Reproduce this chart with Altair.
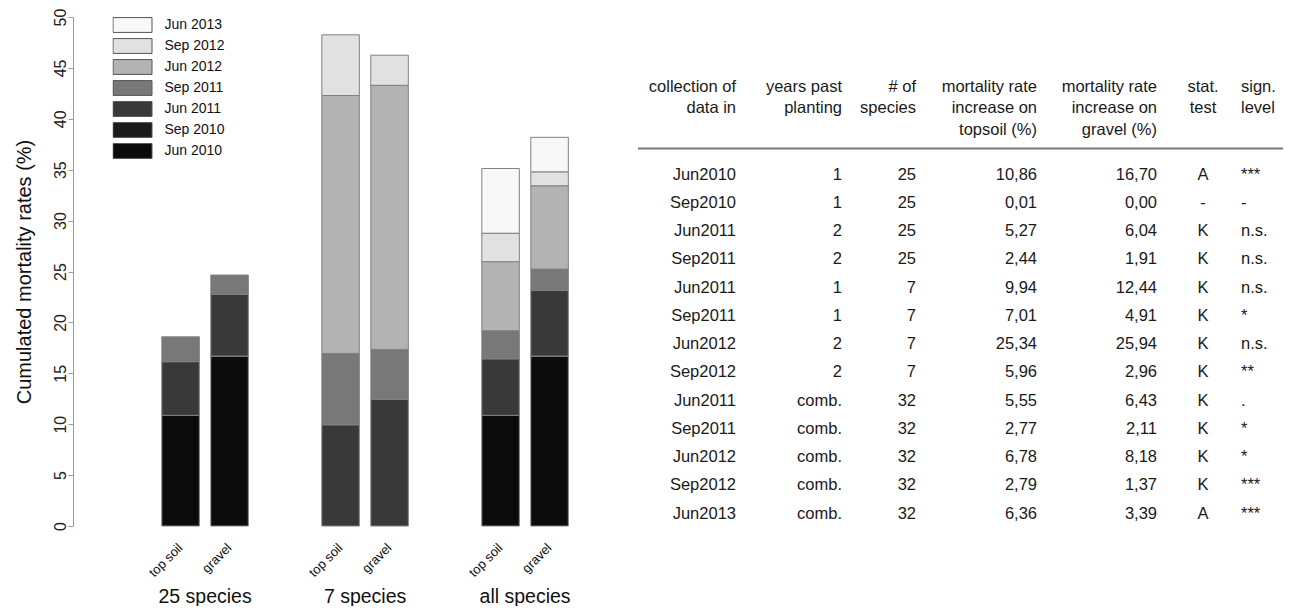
import altair as alt
import pandas as pd

FONT = "Liberation Sans"

# ---------------- data ----------------
periods = ["Jun 2010", "Sep 2010", "Jun 2011", "Sep 2011", "Jun 2012", "Sep 2012", "Jun 2013"]
period_colors = ["#0b0b0b", "#1b1b1b", "#393939", "#787878", "#b3b3b3", "#e1e1e1", "#f8f8f8"]

collection = ["Jun2010", "Sep2010", "Jun2011", "Sep2011", "Jun2011", "Sep2011", "Jun2012",
              "Sep2012", "Jun2011", "Sep2011", "Jun2012", "Sep2012", "Jun2013"]
years_past = ["1", "1", "2", "2", "1", "1", "2", "2", "comb.", "comb.", "comb.", "comb.", "comb."]
n_species = ["25", "25", "25", "25", "7", "7", "7", "7", "32", "32", "32", "32", "32"]
rate_topsoil = [10.86, 0.01, 5.27, 2.44, 9.94, 7.01, 25.34, 5.96, 5.55, 2.77, 6.78, 2.79, 6.36]
rate_gravel = [16.70, 0.00, 6.04, 1.91, 12.44, 4.91, 25.94, 2.96, 6.43, 2.11, 8.18, 1.37, 3.39]
stat_test = ["A", "-", "K", "K", "K", "K", "K", "K", "K", "K", "K", "K", "A"]
sign_level = ["***", "-", "n.s.", "n.s.", "n.s.", "*", "n.s.", "**", ".", "*", "*", "***", "***"]

groups = ["25 species", "7 species", "all species"]
group_rows = [[0, 1, 2, 3], [4, 5, 6, 7], [0, 1, 8, 9, 10, 11, 12]]
substrates = ["top soil", "gravel"]

headers = ["collection of\ndata in", "years past\nplanting", "# of\nspecies",
           "mortality rate\nincrease on\ntopsoil (%)", "mortality rate\nincrease on\ngravel (%)",
           "stat.\ntest", "sign.\nlevel"]

# ---------------- build tables ----------------
recs = []
for g, rows in zip(groups, group_rows):
    for r in rows:
        per = collection[r][:3] + " " + collection[r][3:]
        for sub, vals in zip(substrates, [rate_topsoil, rate_gravel]):
            recs.append({"group": g, "substrate": sub, "period": per,
                         "ord": periods.index(per), "value": vals[r]})
bars_df = pd.DataFrame(recs)
labels_df = pd.DataFrame([{"group": g, "substrate": s} for g in groups for s in substrates])


def fmt(v):
    return f"{v:.2f}".replace(".", ",")


col_values = [collection, years_past, n_species,
              [fmt(v) for v in rate_topsoil], [fmt(v) for v in rate_gravel],
              stat_test, sign_level]
body_recs = []
for ci, vals in enumerate(col_values):
    for ri, t in enumerate(vals):
        body_recs.append({"col": ci, "row": ri, "text": t})
body_df = pd.DataFrame(body_recs)
head_df = pd.DataFrame({"col": list(range(len(headers))), "text": headers})

# ---------------- left panel: stacked bars ----------------
H = 509
W_LEFT = 560
W_RIGHT = 650

x_enc = alt.X("group:N", sort=groups,
              scale=alt.Scale(paddingInner=0.3875, paddingOuter=0.44375, align=0.585),
              axis=alt.Axis(title=None, labelAngle=0, domain=False, ticks=False, tickSize=0,
                            labelPadding=61, labelFontSize=19.5, labelFont=FONT,
                            labelColor="#111111"))
xo_enc = alt.XOffset("substrate:N", sort=substrates,
                     scale=alt.Scale(paddingInner=0.235, paddingOuter=0.1175))

bars = alt.Chart(bars_df).mark_bar(stroke="#808080", strokeWidth=1).encode(
    x=x_enc,
    xOffset=xo_enc,
    y=alt.Y("value:Q", stack="zero",
            scale=alt.Scale(domain=[0, 50], nice=False),
            axis=alt.Axis(values=list(range(0, 51, 5)), title="Cumulated mortality rates (%)",
                          titleFontSize=20, titleFont=FONT, titleFontWeight="normal",
                          titleColor="#111111", titleX=-43, titleY=H / 2,
                          titleAngle=270, titleAlign="center", titleBaseline="alphabetic",
                          labelAngle=270, labelAlign="center", labelBaseline="middle",
                          labelFontSize=16, labelFont=FONT, labelColor="#222222",
                          labelPadding=8, tickSize=5, tickColor="#9a9a9a",
                          domainColor="#9a9a9a", grid=False)),
    color=alt.Color("period:N",
                    scale=alt.Scale(domain=periods[::-1], range=period_colors[::-1]),
                    legend=alt.Legend(title=None, orient="none", legendX=39.5, legendY=0,
                                      symbolType="M-1,-0.38H1V0.38H-1Z", symbolSize=1521,
                                      symbolStrokeColor="#555555", symbolStrokeWidth=1,
                                      clipHeight=16, rowPadding=5, padding=0,
                                      labelFontSize=14, labelFont=FONT, labelColor="#111111",
                                      labelOffset=12)),
    order=alt.Order("ord:Q", sort="ascending"),
)

sub_labels = alt.Chart(labels_df).mark_text(
    angle=315, align="right", baseline="middle", fontSize=13, font=FONT,
    color="#111111", dx=-14, dy=14
).encode(
    x=alt.X("group:N", sort=groups),
    xOffset=alt.XOffset("substrate:N", sort=substrates),
    y=alt.datum(0),
    text="substrate:N",
)

left = alt.layer(bars, sub_labels).properties(width=W_LEFT, height=H)

# ---------------- right panel: table ----------------
col_x = [103, 209, 283, 404, 524, 570, 608]
col_align = ["right", "right", "right", "right", "right", "center", "left"]

row_scale = alt.Scale(domain=[-5.582, 12.435], reverse=True, nice=False, zero=False)

tlayers = [
    alt.Chart(pd.DataFrame({"k": [0]})).mark_rule(color="#777777", strokeWidth=2).encode(
        x=alt.value(5), x2=alt.value(W_RIGHT), y=alt.value(131.5))
]
for ci in range(len(headers)):
    tlayers.append(
        alt.Chart(head_df).transform_filter(alt.datum.col == ci).mark_text(
            align=col_align[ci], baseline="middle", lineBreak="\n", lineHeight=21.6,
            fontSize=16.5, font=FONT, color="#1a1a1a"
        ).encode(x=alt.value(col_x[ci]), y=alt.value(69.7), text="text:N")
    )
    tlayers.append(
        alt.Chart(body_df).transform_filter(alt.datum.col == ci).mark_text(
            align=col_align[ci], baseline="middle", fontSize=16.5, font=FONT, color="#1a1a1a"
        ).encode(x=alt.value(col_x[ci]),
                 y=alt.Y("row:Q", scale=row_scale, axis=None),
                 text="text:N")
    )

right = alt.layer(*tlayers).properties(width=W_RIGHT, height=H)

chart = alt.hconcat(left, right, spacing=0).resolve_scale(
    x="independent", y="independent", color="independent"
).properties(
    padding={"left": 5, "top": 0, "right": 0, "bottom": 0}
).configure(font=FONT).configure_view(strokeWidth=0, stroke="transparent")

chart.save("out.html", embed_options={"renderer": "svg", "actions": False})
